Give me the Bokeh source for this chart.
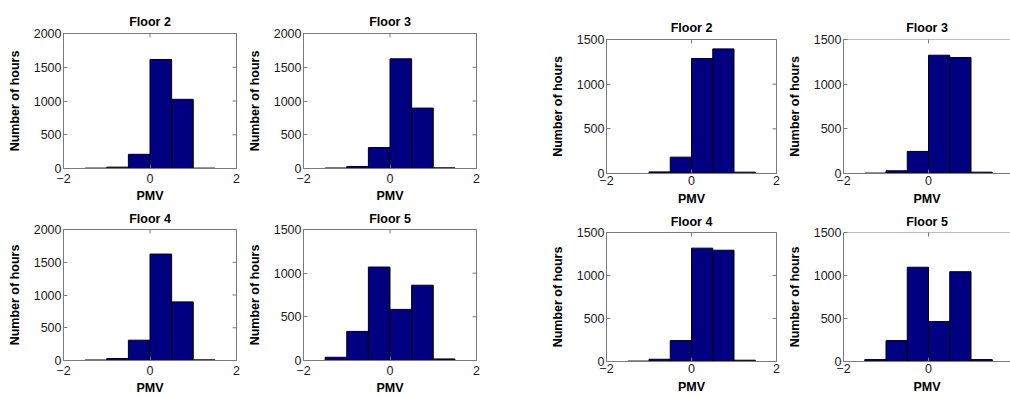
import math
from bokeh.plotting import figure
from bokeh.layouts import row, column
from bokeh.models import Range1d, FixedTicker
from bokeh.embed import file_html
from bokeh.resources import INLINE

# ---- data ----
bin_edges = [-1.5, -1.0, -0.5, 0.0, 0.5, 1.0, 1.5]
x_ticks = [-2, 0, 2]

titles = ["Floor 2", "Floor 3", "Floor 4", "Floor 5"]

# left group
left_floor2 = [6, 20, 210, 1615, 1025, 6]
left_floor3 = [8, 30, 310, 1625, 895, 10]
left_floor4 = [8, 30, 310, 1625, 895, 10]
left_floor5 = [37, 333, 1070, 585, 862, 18]
left_ymax = [2000, 2000, 2000, 1500]

# right group
right_floor2 = [0, 18, 183, 1287, 1395, 15]
right_floor3 = [5, 30, 247, 1324, 1298, 15]
right_floor4 = [5, 26, 243, 1318, 1294, 15]
right_floor5 = [22, 243, 1096, 464, 1044, 22]
right_ymax = [1500, 1500, 1500, 1500]

FONT = "Liberation Sans"
BAR = "#000080"
AX = "#7a7a7a"
TXT = "#1a1a1a"


def style_axis(ax):
    ax.axis_line_color = AX
    ax.major_tick_line_color = AX
    ax.major_tick_in = 4
    ax.major_tick_out = 0
    ax.minor_tick_line_color = None
    ax.major_label_text_font = FONT
    ax.major_label_text_color = TXT
    ax.major_label_text_font_size = "12.5px"
    ax.axis_label_text_font = FONT
    ax.axis_label_text_font_size = "12.5px"
    ax.axis_label_text_font_style = "bold"
    ax.axis_label_text_color = "#000000"


def make_fig(title, values, ymax, lb, rb, tb, bb, fw, fh, xend=2, right_box=True,
             tick_standoff=5, label_standoff=1, title_standoff=8):
    p = figure(width=lb + fw + rb, height=tb + fh + bb,
               output_backend="svg", toolbar_location=None,
               x_range=Range1d(-2, xend), y_range=Range1d(0, ymax),
               min_border_left=lb, min_border_right=rb,
               min_border_top=tb, min_border_bottom=bb,
               title=title)
    p.outline_line_color = AX
    p.grid.visible = False
    p.background_fill_color = "white"
    p.border_fill_color = "white"
    p.title.align = "center"
    p.title.text_font = FONT
    p.title.text_font_size = "12.5px"
    p.title.text_font_style = "bold"
    p.title.text_color = "#000000"
    p.title.standoff = title_standoff
    p.quad(left=bin_edges[:-1], right=bin_edges[1:], top=values, bottom=0,
           fill_color=BAR, line_color="black", line_width=1)
    yt = list(range(0, ymax + 1, 500))
    p.xaxis.ticker = FixedTicker(ticks=x_ticks)
    p.yaxis.ticker = FixedTicker(ticks=yt)
    p.xaxis.axis_label = "PMV"
    p.yaxis.axis_label = "Number of hours"
    style_axis(p.xaxis[0])
    style_axis(p.yaxis[0])
    p.xaxis[0].major_label_standoff = tick_standoff
    p.xaxis[0].axis_label_standoff = label_standoff
    p.yaxis[0].major_label_standoff = 2
    p.yaxis[0].axis_label_standoff = 9
    # inward tick marks on the top and right edges of the box (clipped to frame)
    p.scatter(x=x_ticks, y=[ymax] * len(x_ticks), marker="dash", size=8,
              angle=math.pi / 2, line_color=AX, line_width=1)
    if right_box:
        p.scatter(x=[xend] * len(yt), y=yt, marker="dash", size=8,
                  line_color=AX, line_width=1)
    else:
        p.outline_line_color = None
        p.segment(x0=[-2], y0=[ymax], x1=[xend], y1=[ymax],
                  line_color=AX, line_width=1)
    return p


XEND = -2 + 4 * 167 / 170
LEFT_KW = dict(tick_standoff=5, label_standoff=3)
RIGHT_KW = dict(tick_standoff=2, label_standoff=4)

# left group
f1 = make_fig(titles[0], left_floor2, left_ymax[0], 63, 4, 33, 37, 173, 135,
              title_standoff=10, **LEFT_KW)
f2 = make_fig(titles[1], left_floor3, left_ymax[1], 63, 44, 33, 37, 173, 135,
              title_standoff=10, **LEFT_KW)
f3 = make_fig(titles[2], left_floor4, left_ymax[2], 63, 4, 22, 37, 173, 133,
              title_standoff=8, **LEFT_KW)
f4 = make_fig(titles[3], left_floor5, left_ymax[3], 63, 44, 22, 37, 173, 133,
              title_standoff=8, **LEFT_KW)

# right group
g1 = make_fig(titles[0], right_floor2, right_ymax[0], 86, 4, 39, 36, 170, 134,
              title_standoff=10, **RIGHT_KW)
g2 = make_fig(titles[1], right_floor3, right_ymax[1], 63, 0, 39, 36, 167, 134,
              xend=XEND, right_box=False, title_standoff=10, **RIGHT_KW)
g3 = make_fig(titles[2], right_floor4, right_ymax[2], 86, 4, 21, 36, 170, 131,
              title_standoff=7, **RIGHT_KW)
g4 = make_fig(titles[3], right_floor5, right_ymax[3], 63, 0, 21, 36, 167, 131,
              xend=XEND, right_box=False, title_standoff=7, **RIGHT_KW)

left = column(row(f1, f2), row(f3, f4))
right = column(row(g1, g2), row(g3, g4))
p = row(left, right)

open("out.html", "w").write(file_html(p, INLINE))
